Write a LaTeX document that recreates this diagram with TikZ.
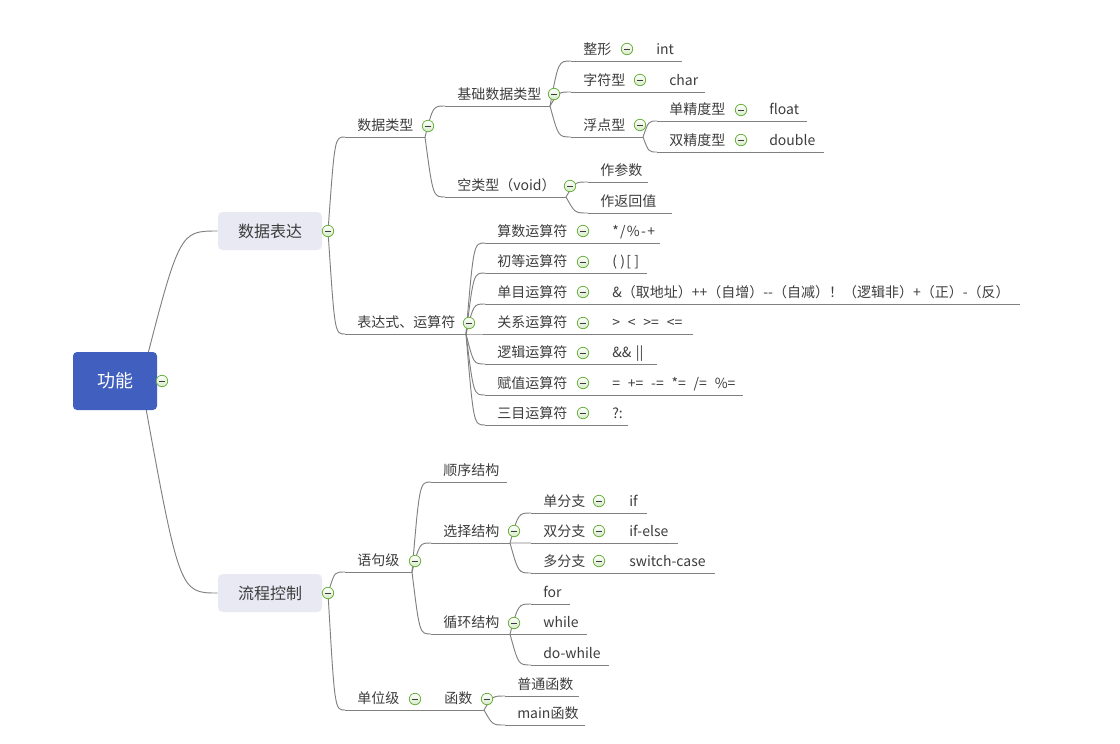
\documentclass[tikz,border=0pt]{standalone}
\usepackage{fontspec}
\setmainfont{Noto Sans CJK SC}
\usetikzlibrary{positioning,calc,backgrounds}

\definecolor{rootblue}{RGB}{65,95,190}
\definecolor{mainfill}{RGB}{232,233,243}
\definecolor{textgray}{RGB}{60,60,60}
\definecolor{linegray}{RGB}{128,128,128}
\definecolor{foldgreen}{RGB}{105,175,60}
\definecolor{foldfill}{RGB}{214,234,200}

\tikzset{
  topic/.style={anchor=west,inner sep=0pt,text=textgray,text height=0.8em,text depth=0.2em,
    font=\fontsize{10.5}{12}\selectfont},
  uline/.style={draw=linegray,line width=0.7pt},
  link/.style={draw=linegray,line width=0.7pt},
  fold/.style={circle,draw=foldgreen,line width=0.6pt,top color=white,bottom color=foldfill,
    minimum size=8.6pt,inner sep=0pt,
    path picture={\draw[textgray,line width=0.6pt]
      ([xshift=-2.4pt]path picture bounding box.center)--([xshift=2.4pt]path picture bounding box.center);}},
  rootbox/.style={rounded corners=3pt,fill=rootblue,text=white,minimum width=63pt,minimum height=43.5pt,
    font=\fontsize{13.5}{16}\selectfont},
  mainbox/.style={rounded corners=3.5pt,fill=mainfill,text=textgray,minimum width=78pt,minimum height=28.5pt,
    font=\fontsize{12}{14}\selectfont}
}

% name, text x, underline y, underline right x, text
\newcommand\topic[5]{%
  \coordinate (#1L) at (#2-12,#3);
  \coordinate (#1R) at (#4,#3);
  \draw[uline] (#1L)--(#1R);
  \node[topic] (#1) at (#2,#3-11) {#5};}
% curved connector from parent end to child start
\newcommand\branch[3][0.4]{\draw[link] (#2) .. controls ($(#2 |- #3)!#1!(#3)$) .. (#3);}
\newcommand\opgap{\hspace{3.5pt}}

\begin{document}
\begin{tikzpicture}[x=0.75pt,y=-0.75pt]
  \useasboundingbox (0,0) rectangle (1120,743);
  % root and main topics
  \node[rootbox] (root) at (115,381) {功能};
  \coordinate (rootO) at (141,381);
  \node[fold] (rootF) at (162,381) {};
  \node[mainbox] (sjbd) at (270,231) {数据表达};
  \node[fold] (sjbdF) at (328,231) {};
  \node[mainbox] (lckz) at (270,593) {流程控制};
  \node[fold] (lckzF) at (328,593) {};

  % data types
  \topic{sjlx}{357}{137}{425}{数据类型}
  \node[fold] (sjlxF) at (428,126) {};
  \topic{jc}{457}{106}{550}{基础数据类型}
  \node[fold] (jcF) at (554,94) {};
  \topic{zx}{583}{61}{682}{整形}
  \node[fold] (zxF) at (627,49) {};
  \node[topic] (zxV) at (656,50) {int};
  \topic{zfx}{583}{92}{705}{字符型}
  \node[fold] (zfxF) at (640,80) {};
  \node[topic] (zfxV) at (669,81) {char};
  \topic{fdx}{583}{137}{643}{浮点型}
  \node[fold] (fdxF) at (640,125) {};
  \topic{djd}{669}{121}{807}{单精度型}
  \node[fold] (djdF) at (741,110) {};
  \node[topic] (djdV) at (769,110) {float};
  \topic{sjd}{669}{152}{824}{双精度型}
  \node[fold] (sjdF) at (741,140) {};
  \node[topic] (sjdV) at (769,141) {double};
  \topic{kl}{457}{197}{566}{空类型（void）}
  \node[fold] (klF) at (570,186) {};
  \topic{zcs}{600}{182}{648}{作参数}
  \topic{zfh}{600}{213}{672}{作返回值}

  % operators
  \topic{bds}{357}{334}{466}{表达式、运算符}
  \node[fold] (bdsF) at (469,323) {};
  \topic{ssys}{497}{243}{660}{算数运算符}
  \topic{cdys}{497}{273}{647}{初等运算符}
  \topic{dmys}{497}{304}{1020}{单目运算符}
  \topic{gxys}{497}{334}{693}{关系运算符}
  \topic{ljys}{497}{364}{657}{逻辑运算符}
  \topic{fzys}{497}{395}{743}{赋值运算符}
  \topic{smys}{497}{425}{628}{三目运算符}
  \foreach \n/\y in {ssys/231,cdys/262,dmys/292,gxys/323,ljys/353,fzys/383,smys/413}
    \node[fold] (\n F) at (583,\y) {};
  \node[topic] (ssysV) at (612,232) {*\kern1pt/\kern1pt\%\kern1pt-\kern1pt+};
  \node[topic] (cdysV) at (612,262) {(\kern2.5pt)\kern1pt[\kern2.5pt]};
  \node[topic] (dmysV) at (612,293) {\&（取地址）++（自增）-{}-（自减）！（逻辑非）+（正）-（反）};
  \node[topic] (gxysV) at (612,323) {>\opgap{} <\opgap{} >=\opgap{} <=};
  \node[topic] (ljysV) at (612,353) {\&\&\kern1pt{} ||};
  \node[topic] (fzysV) at (612,384) {=\opgap{} +=\opgap{} -=\opgap{} *=\opgap{} /=\opgap{} \%=};
  \node[topic] (smysV) at (612,414) {?:};

  % statements
  \topic{yjj}{357}{572}{412}{语句级}
  \node[fold] (yjjF) at (415,561) {};
  \topic{sx}{443}{482}{507}{顺序结构}
  \topic{xz}{443}{543}{510}{选择结构}
  \node[fold] (xzF) at (514,531) {};
  \topic{dfz}{543}{513}{647}{单分支}
  \topic{sfz}{543}{543}{678}{双分支}
  \topic{dufz}{543}{573}{715}{多分支}
  \foreach \n/\y/\v in {dfz/501/if,sfz/531/if-else,dufz/561/switch-case} {
    \node[fold] (\n F) at (599,\y) {};
    \node[topic] (\n V) at (629,\y+1) {\v};
  }
  \topic{xh}{443}{634}{510}{循环结构}
  \node[fold] (xhF) at (514,623) {};
  \topic{xfor}{543}{604}{570}{for}
  \topic{xwhile}{543}{634}{587}{while}
  \topic{xdo}{543}{665}{609}{do-while}

  % functions
  \topic{dwj}{357}{710}{430}{单位级}
  \node[fold] (dwjF) at (415,699) {};
  \topic{hs}{444}{710}{484}{函数}
  \node[fold] (hsF) at (487,699) {};
  \topic{ptd}{517}{696}{579}{普通函数}
  \topic{mfn}{517}{725}{585}{main函数}

  % connectors
  \begin{scope}[on background layer]
    \branch[0.5]{rootO}{sjbd.west}
    \branch[0.5]{rootO}{lckz.west}
    \branch{sjbdF}{sjlxL}
    \branch{sjbdF}{bdsL}
    \branch{sjlxR}{jcL}
    \branch{sjlxR}{klL}
    \foreach \n in {zx,zfx,fdx} {\branch{jcR}{\n L}}
    \branch{fdxR}{djdL}
    \branch{fdxR}{sjdL}
    \branch{klR}{zcsL}
    \branch{klR}{zfhL}
    \foreach \n in {ssys,cdys,dmys,gxys,ljys,fzys,smys} {\branch{bdsR}{\n L}}
    \branch{lckzF}{yjjL}
    \branch{lckzF}{dwjL}
    \foreach \n in {sx,xz,xh} {\branch{yjjR}{\n L}}
    \foreach \n in {dfz,sfz,dufz} {\branch{xzR}{\n L}}
    \foreach \n in {xfor,xwhile,xdo} {\branch{xhR}{\n L}}
    \branch{dwjR}{hsL}
    \branch{hsR}{ptdL}
    \branch{hsR}{mfnL}
  \end{scope}
\end{tikzpicture}
\end{document}
